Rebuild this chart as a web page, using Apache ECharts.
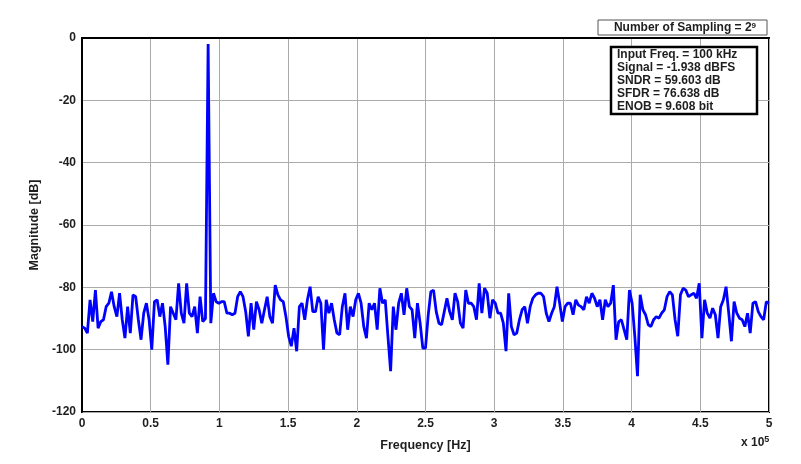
<!DOCTYPE html>
<html>
<head>
<meta charset="utf-8">
<script src="https://cdn.jsdelivr.net/npm/echarts@6/dist/echarts.min.js"></script>
<style>
html,body{margin:0;padding:0;background:#fff;}
#chart{width:801px;height:464px;}
</style>
</head>
<body>
<div id="chart"></div>
<script>
// ---- data ----
const fftPoints = 512;
const sampleRateHz = 1000000;
const binHz = sampleRateHz / fftPoints; // 1953.125 Hz
const xTickLabels = ['0','0.5','1','1.5','2','2.5','3','3.5','4','4.5','5'];
const yTickValues = [0,-20,-40,-60,-80,-100,-120];
const magnitudeDb = [
 -92.6,-93.1,-94.7,-84,-91,-80.9,-93.1,-91,-90.4,-86.2,
 -85.1,-81.4,-86.2,-89.4,-81.9,-90.4,-96.3,-86.2,-94.7,-82.4,
 -83,-90.4,-96.8,-88.3,-85.1,-90.4,-100,-84.6,-84,-89.4,
 -85.1,-92.6,-104.8,-86.2,-88.3,-90.4,-78.7,-88.3,-91.5,-78.7,
 -88.3,-89.4,-86.2,-94.7,-83,-91,-90,-1.938,-91.5,-81.9,
 -84.6,-85.1,-84.6,-84.6,-88.3,-88.3,-88.8,-88.3,-83,-81.4,
 -83,-87.8,-95.7,-85.1,-93.6,-84.6,-87.2,-91.5,-87.2,-83,
 -89.4,-91.5,-79.3,-82.4,-84,-84.6,-89.4,-95.7,-98.9,-93.1,
 -100.5,-86.2,-85.1,-90.4,-84,-79.8,-87.8,-87.8,-83,-85.1,
 -100,-84,-88.3,-85.1,-90.4,-94.7,-95.2,-86.2,-81.9,-93.6,
 -86.2,-89.4,-84,-81.9,-85.1,-92.6,-96.3,-85.1,-87.2,-85.1,
 -93.6,-80.3,-85.1,-84,-95.7,-106.9,-86.2,-93.6,-85.1,-81.9,
 -88.8,-80.3,-86.2,-87.2,-96.3,-85.1,-91.5,-99.5,-99.5,-89,
 -81.4,-80.9,-87.8,-91.5,-92,-87.8,-83.5,-87.8,-90.4,-81.9,
 -84.6,-91.5,-93.1,-80.9,-85.1,-85.1,-86.2,-90.4,-78.7,-88.3,
 -80.3,-81.9,-89.9,-84,-85.1,-88.3,-88.3,-91.5,-100.5,-81.9,
 -92.6,-95.2,-94.7,-90.4,-87.2,-86.2,-91.5,-86.2,-83.5,-82.4,
 -81.9,-81.9,-83,-88.3,-91,-88.3,-86.2,-79.8,-85.1,-91,
 -86.2,-85.1,-85.1,-88.8,-84,-85.7,-86.2,-87.2,-83,-85.1,
 -81.9,-83.5,-86.2,-84,-90.4,-84,-86.2,-85.1,-79.3,-96.8,
 -91,-90.4,-93.6,-96.8,-80.9,-85.1,-95.7,-108.5,-82.4,-87.2,
 -88.8,-92,-92.6,-90.4,-89.4,-89.9,-88.3,-87.2,-83,-81.4,
 -82.4,-90.4,-95.7,-82.4,-80.3,-80.9,-83,-82.4,-81.9,-83.5,
 -78.7,-96.3,-84,-88.3,-89.9,-86.7,-88.8,-96.3,-86.2,-84,
 -79.8,-88.3,-97.3,-84.6,-88.3,-89.9,-90.4,-92.6,-88.3,-94.7,
 -85.1,-84.6,-87.8,-89.4,-90.4,-84.6,-85.1
];
const samplingExponent = '9';
const statLines = [
  'Input Freq. = 100 kHz',
  'Signal = -1.938 dBFS',
  'SNDR = 59.603 dB',
  'SFDR = 76.638 dB',
  'ENOB = 9.608 bit'
];

// ---- chart ----
const FONT = '"Liberation Sans", Arial, sans-serif';
const TXT = '#1e1e1e';
const chart = echarts.init(document.getElementById('chart'), null, {renderer:'canvas'});
const seriesData = magnitudeDb.map((v, i) => [i * binHz, v]);

chart.setOption({
  animation: false,
  backgroundColor: '#ffffff',
  grid: {left: 82, right: 32, top: 38, bottom: 52, containLabel: false,
         show: true, borderColor: '#000', borderWidth: 2, backgroundColor: 'transparent'},
  xAxis: {
    type: 'value', min: 0, max: sampleRateHz / 2, interval: 50000,
    name: 'Frequency [Hz]', nameLocation: 'middle', nameGap: 27,
    nameTextStyle: {fontFamily: FONT, fontWeight: 'bold', fontSize: 12.5, color: TXT},
    axisLine: {show: true, lineStyle: {color: '#000', width: 2}},
    axisTick: {show: false},
    axisLabel: {margin: 6, fontFamily: FONT, fontWeight: 'bold', fontSize: 12, color: TXT,
      formatter: v => xTickLabels[Math.round(v / 50000)]},
    splitLine: {show: true, lineStyle: {color: '#ababab', width: 1}}
  },
  yAxis: {
    type: 'value', min: -120, max: 0, interval: 20,
    name: 'Magnitude [dB]', nameLocation: 'middle', nameGap: 37, nameRotate: 90,
    nameTextStyle: {fontFamily: FONT, fontWeight: 'bold', fontSize: 12.5, color: TXT},
    axisLine: {show: true, lineStyle: {color: '#000', width: 2}},
    axisTick: {show: false},
    axisLabel: {margin: 6, fontFamily: FONT, fontWeight: 'bold', fontSize: 12, color: TXT,
      formatter: v => yTickValues.includes(v) ? String(v) : ''},
    splitLine: {show: true, lineStyle: {color: '#ababab', width: 1}}
  },
  series: [{
    type: 'line', data: seriesData, showSymbol: false, symbol: 'none',
    lineStyle: {color: '#0000ff', width: 2.8}, z: 3
  }],
  graphic: [
    {type: 'rect', shape: {x: 598, y: 20, width: 169, height: 15},
     style: {fill: '#fff', stroke: '#555', lineWidth: 1}, z: 10},
    {type: 'text', x: 685, y: 28, z: 11,
     style: {text: 'Number of Sampling = 2{sup|' + samplingExponent + '}',
       align: 'center', verticalAlign: 'middle',
       font: 'bold 12px ' + FONT, fill: TXT,
       rich: {sup: {fontSize: 8, fontWeight: 'bold', fontFamily: FONT, fill: TXT, verticalAlign: 'top', padding: [0,0,5,0]}}}},
    {type: 'rect', shape: {x: 611, y: 47, width: 146, height: 67},
     style: {fill: '#fff', stroke: '#000', lineWidth: 2.5}, z: 10},
    {type: 'text', x: 617, y: 48, z: 11,
     style: {text: statLines.join('\n'), align: 'left', verticalAlign: 'top',
       font: 'bold 12px ' + FONT, fill: TXT, lineHeight: 13}},
    {type: 'text', x: 741, y: 443, z: 11,
     style: {text: 'x 10{sup|5}', align: 'left', verticalAlign: 'middle',
       font: 'bold 12px ' + FONT, fill: TXT,
       rich: {sup: {fontSize: 9, fontWeight: 'bold', fontFamily: FONT, fill: TXT, verticalAlign: 'top', padding: [0,0,6,0]}}}}
  ]
});
</script>
</body>
</html>
